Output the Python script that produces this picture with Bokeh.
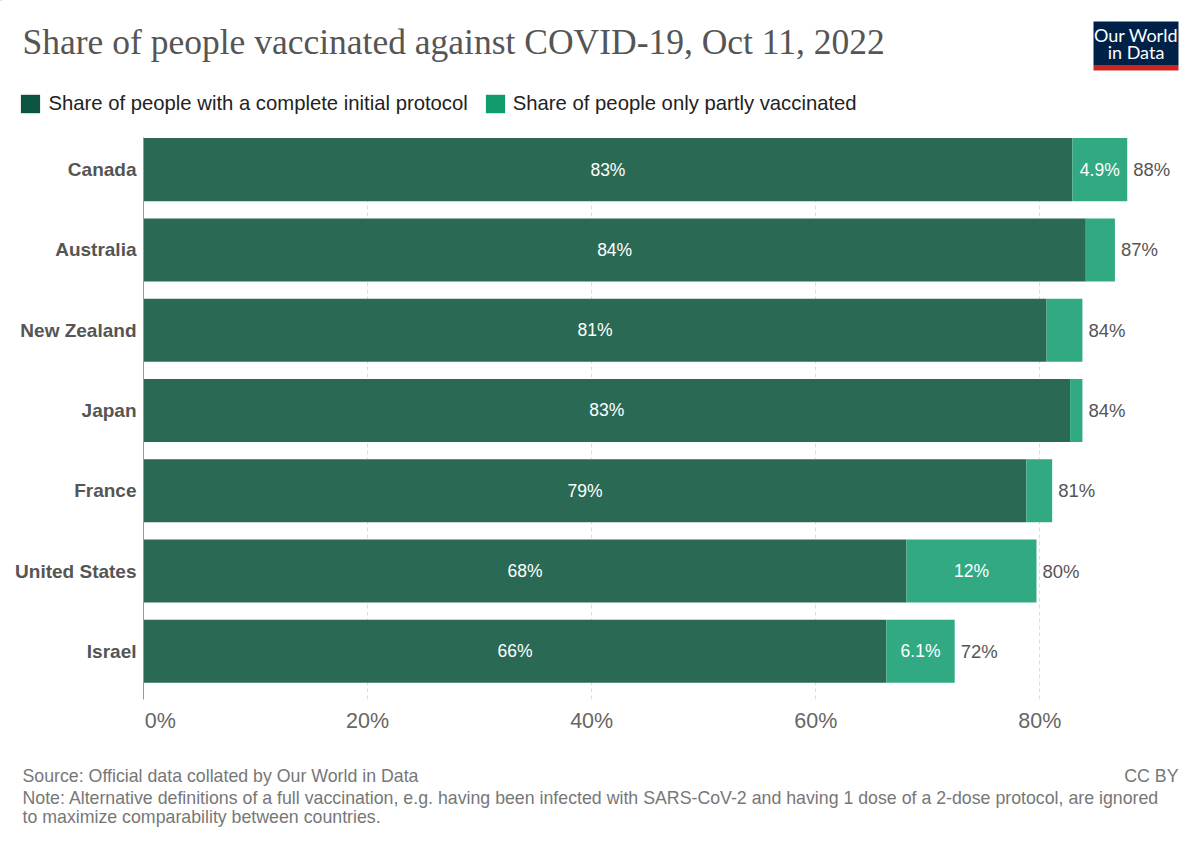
from bokeh.plotting import figure
from bokeh.layouts import column
from bokeh.models import (ColumnDataSource, Range1d, FixedTicker, Legend, LegendItem)
from bokeh.core.properties import value
from bokeh.embed import file_html
from bokeh.resources import INLINE

# ---------------- data ----------------
countries = ["Canada", "Australia", "New Zealand", "Japan", "France",
             "United States", "Israel"]
complete = [82.9, 84.1, 80.6, 82.7, 78.8, 68.1, 66.3]
partly = [4.9, 2.6, 3.2, 1.1, 2.3, 11.6, 6.1]
x_ticks = [0, 20, 40, 60, 80]
x_tick_labels = ["0%", "20%", "40%", "60%", "80%"]
series_names = ["Share of people with a complete initial protocol",
                "Share of people only partly vaccinated"]
title_text = "Share of people vaccinated against COVID-19, Oct 11, 2022"
source_text = "Source: Official data collated by Our World in Data"
note_lines = ["Note: Alternative definitions of a full vaccination, e.g. having been "
              "infected with SARS-CoV-2 and having 1 dose of a 2-dose protocol, are ignored",
              "to maximize comparability between countries."]
license_text = "CC BY"
logo_lines = ["Our World", "in Data"]

# ---------------- style ----------------
W = 1200
HEAD_H, MAIN_H, FOOT_H = 137, 613, 97
SANS = "Liberation Sans"
FONT = value(SANS)
BAR_DARK, BAR_LIGHT = "#2a6a55", "#31aa83"
LEG_DARK, LEG_LIGHT = "#0a5440", "#129b6f"


def fmt(v):
    return f"{v:.1f}%" if v < 10 else f"{round(v):.0f}%"


def blank(height, y0):
    f = figure(width=W, height=height, output_backend="svg", toolbar_location=None,
               x_range=Range1d(0, W), y_range=Range1d(y0 + height, y0),
               x_axis_type=None, y_axis_type=None,
               min_border_left=0, min_border_right=0,
               min_border_top=0, min_border_bottom=0, frame_align=False)
    f.outline_line_color = None
    f.grid.visible = False
    f.background_fill_color = "white"
    f.border_fill_color = "white"
    return f


# ---------------- header ----------------
head = blank(HEAD_H, 0)
head.text(x=[22], y=[41.5], text=[title_text], text_font=value("Liberation Serif"),
          text_font_size="35.5px", text_color="#555555", text_baseline="alphabetic")
head.quad(left=[1093], right=[1178], top=[21], bottom=[64.5], fill_color="#002147",
          line_color=None)
head.quad(left=[1093], right=[1178], top=[64.5], bottom=[70], fill_color="#ce261e",
          line_color=None)
head.text(x=[1135.5, 1135.5], y=[34, 51.7], text=logo_lines, text_font=value("Lato"),
          text_font_size="18px", text_color="white", text_align="center",
          text_baseline="alphabetic")
# swatch renderers for the legend (their single point lies outside the view)
d1 = head.hbar(y=[-500], left=[0], right=[1], height=1, fill_color=LEG_DARK,
               line_color=None)
d2 = head.hbar(y=[-500], left=[0], right=[1], height=1, fill_color=LEG_LIGHT,
               line_color=None)
legend = Legend(items=[LegendItem(label=series_names[0], renderers=[d1]),
                       LegendItem(label=series_names[1], renderers=[d2])],
                orientation="horizontal", location=(18.4, 22.5),
                glyph_width=24, glyph_height=23, label_standoff=6, spacing=15,
                padding=0, margin=0, border_line_color=None,
                background_fill_alpha=0, label_text_font=SANS,
                label_text_font_size="20.3px", label_text_color="#222222")
head.add_layout(legend, "center")

# ---------------- main chart ----------------
n = len(countries)
ys = [n - 1 - i for i in range(n)]
totals = [c + q for c, q in zip(complete, partly)]
show_partly = [q >= 4 for q in partly]

src = ColumnDataSource(dict(
    y=ys, complete=complete, total=totals,
    mid_c=[c / 2 for c in complete],
    mid_p=[c + q / 2 for c, q in zip(complete, partly)],
    lab_c=[fmt(c) for c in complete],
    lab_p=[fmt(q) if s else "" for q, s in zip(partly, show_partly)],
    lab_t=[fmt(t) for t in totals],
    zero=[0] * n,
))

p = figure(width=W, height=MAIN_H, output_backend="svg", toolbar_location=None,
           x_range=Range1d(0, 93), y_range=Range1d(-0.6, 6.4),
           min_border_left=143, min_border_right=15,
           min_border_top=0, min_border_bottom=51, frame_align=False)
p.outline_line_color = None
p.background_fill_color = "white"
p.border_fill_color = "white"

p.ygrid.visible = False
p.xgrid.ticker = FixedTicker(ticks=x_ticks[1:])
p.xgrid.grid_line_color = "#dddddd"
p.xgrid.grid_line_dash = "4 3"
p.xgrid.grid_line_width = 1

# x axis (first label sits just right of 0, as in the original)
tick_pos = [t + (1.5 if t == 0 else 0) for t in x_ticks]
p.xaxis.ticker = FixedTicker(ticks=tick_pos)
p.xaxis.major_label_overrides = {tp: lab for tp, lab in zip(tick_pos, x_tick_labels)}
p.xaxis.axis_line_color = None
p.xaxis.major_tick_line_color = None
p.xaxis.minor_tick_line_color = None
p.xaxis.major_tick_out = 0
p.xaxis.major_label_standoff = 9
p.xaxis.major_label_text_font = SANS
p.xaxis.major_label_text_font_size = "21.5px"
p.xaxis.major_label_text_color = "#666666"

p.yaxis.ticker = FixedTicker(ticks=ys)
p.yaxis.major_label_overrides = {y: c for y, c in zip(ys, countries)}
p.yaxis.axis_line_color = "#999999"
p.yaxis.major_tick_line_color = None
p.yaxis.minor_tick_line_color = None
p.yaxis.major_tick_out = 0
p.yaxis.major_label_standoff = 7
p.yaxis.major_label_text_font = SANS
p.yaxis.major_label_text_font_style = "bold"
p.yaxis.major_label_text_font_size = "19px"
p.yaxis.major_label_text_color = "#555555"

bh = 0.785
p.hbar(y="y", left="zero", right="complete", height=bh, source=src,
       fill_color=BAR_DARK, line_color=None)
p.hbar(y="y", left="complete", right="total", height=bh, source=src,
       fill_color=BAR_LIGHT, line_color=None)

p.text(x="mid_c", y="y", text="lab_c", source=src, text_align="center",
       text_baseline="middle", text_color="white", text_font=FONT,
       text_font_size="17.5px")
p.text(x="mid_p", y="y", text="lab_p", source=src, text_align="center",
       text_baseline="middle", text_color="white", text_font=FONT,
       text_font_size="17.5px")
p.text(x="total", y="y", text="lab_t", source=src, x_offset=6,
       text_align="left", text_baseline="middle", text_color="#555555",
       text_font=FONT, text_font_size="18.5px")

# ---------------- footer ----------------
foot = blank(FOOT_H, HEAD_H + MAIN_H)
foot.text(x=[22], y=[775.5], text=[source_text], text_font=FONT,
          text_font_size="17.75px", text_color="#777777", text_baseline="alphabetic")
foot.text(x=[22, 22], y=[797.6, 816.7], text=note_lines, text_font=FONT,
          text_font_size="17.75px", text_color="#777777", text_baseline="alphabetic")
foot.text(x=[1178], y=[775.5], text=[license_text], text_font=FONT,
          text_font_size="17.75px", text_color="#777777", text_align="right",
          text_baseline="alphabetic")

layout = column(head, p, foot, spacing=0)
open("out.html", "w").write(file_html(layout, INLINE))
